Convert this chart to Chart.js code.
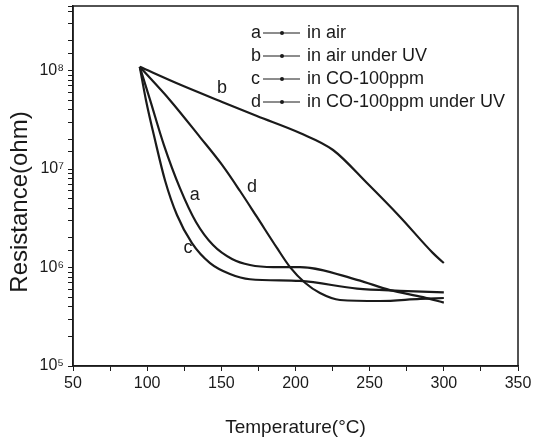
<!DOCTYPE html>
<html>
<head>
<meta charset="utf-8">
<script src="https://cdn.jsdelivr.net/npm/chart.js@4/dist/chart.umd.min.js"></script>
<style>
    body { margin:0; background:#fff; }
    #wrap { width:533px; height:448px; }
</style>
</head>
<body>
<div id="wrap"><canvas id="chart" width="533" height="448"></canvas></div>
<script>
// values (temperature in C, resistance in ohm)
const temp_a = [95, 102, 111.3, 122.1, 132.9, 144.4, 157.2, 169.3, 185, 203, 241.5, 263.7, 286, 300];
const res_a  = [1.09e8, 5.0e7, 1.75e7, 6.4e6, 2.9e6, 1.69e6, 1.22e6, 1.06e6, 1.01e6, 1.01e6, 7.5e5, 5.9e5, 5.0e5, 4.4e5];

const temp_b = [95, 122, 150.5, 174, 203, 225.3, 248.2, 270.5, 292.7, 300];
const res_b  = [1.09e8, 7.2e7, 4.8e7, 3.45e7, 2.32e7, 1.56e7, 7.2e6, 3.26e6, 1.4e6, 1.11e6];

const temp_c = [95, 99.2, 105.3, 112, 120.1, 130.2, 142.4, 155.8, 169.3, 203, 241.5, 270.5, 300];
const res_c  = [1.09e8, 5.0e7, 1.97e7, 7.7e6, 3.41e6, 1.77e6, 1.11e6, 8.6e5, 7.6e5, 7.3e5, 6.1e5, 5.8e5, 5.6e5];

const temp_d = [95, 115.4, 135.6, 150.5, 162.6, 174, 187.5, 196.3, 206.4, 216.5, 230, 257, 284, 300];
const res_d  = [1.09e8, 5.0e7, 2.11e7, 1.10e7, 5.98e6, 3.26e6, 1.58e6, 1.01e6, 7.0e5, 5.5e5, 4.68e5, 4.57e5, 4.8e5, 4.9e5];

const seriesNames = ['a', 'b', 'c', 'd'];
const legendText = ['in air', 'in air under UV', 'in CO-100ppm', 'in CO-100ppm under UV'];

// where the little letters sit next to each curve (data coords)
const labelTemp = [132, 150.5, 127.5, 170.7];
const labelRes  = [5.4e6, 6.6e7, 1.58e6, 6.6e6];

const xMin = 50, xMax = 350, xStep = 25;
const yMin = 1e5, yMax = 4.52e8;
const sup = {5:'\u2075', 6:'\u2076', 7:'\u2077', 8:'\u2078', 9:'\u2079'};

const FONT = "'Liberation Sans', Arial, sans-serif";
const INK = '#1a1a1a';

function toPoints(xs, ys){
    return xs.map((x, i)=>({x: x, y: ys[i]}));
}

const allTemps = [temp_a, temp_b, temp_c, temp_d];
const allRes = [res_a, res_b, res_c, res_d];

const datasets = seriesNames.map((name, i)=>({
    label: name,
    data: toPoints(allTemps[i], allRes[i]),
    borderColor: INK,
    borderWidth: 2.2,
    pointRadius: 0,
    fill: false,
    tension: 0.4,
    cubicInterpolationMode: 'monotone',
}));

// frame, axis titles, legend and curve letters
const decorPlugin = {
    id: 'decor',
    afterDraw(chart){
        const ctx = chart.ctx;
        const area = chart.chartArea;
        const xs = chart.scales.x, ys = chart.scales.y;

        ctx.save();
        ctx.strokeStyle = INK;
        ctx.lineWidth = 1.5;
        ctx.strokeRect(area.left, area.top, area.right - area.left, area.bottom - area.top);

        ctx.fillStyle = INK;

        // y title
        ctx.save();
        ctx.translate(20, 202);
        ctx.rotate(-Math.PI / 2);
        ctx.font = '24px ' + FONT;
        ctx.textAlign = 'center';
        ctx.textBaseline = 'middle';
        ctx.fillText('Resistance(ohm)', 0, 0);
        ctx.restore();

        // x title
        ctx.font = '19px ' + FONT;
        ctx.textAlign = 'center';
        ctx.textBaseline = 'middle';
        ctx.fillText('Temperature(\u00B0C)', (area.left + area.right) / 2, 428);

        // legend
        ctx.font = '18px ' + FONT;
        ctx.textBaseline = 'middle';
        for (let i = 0; i < seriesNames.length; i++){
            const y = area.top + 27 + i * 23;
            ctx.textAlign = 'left';
            ctx.fillText(seriesNames[i], 251, y);
            ctx.lineWidth = 1;
            ctx.beginPath();
            ctx.moveTo(263, y);
            ctx.lineTo(300, y);
            ctx.stroke();
            ctx.beginPath();
            ctx.arc(282, y, 2, 0, Math.PI * 2);
            ctx.fill();
            ctx.fillText(legendText[i], 307, y);
        }

        // letters on the curves
        ctx.textAlign = 'center';
        for (let i = 0; i < seriesNames.length; i++){
            ctx.fillText(seriesNames[i], xs.getPixelForValue(labelTemp[i]), ys.getPixelForValue(labelRes[i]));
        }
        ctx.restore();
    }
};

const config = {
    type: 'line',
    data: { datasets: datasets },
    options: {
        responsive: false,
        animation: false,
        layout: { padding: { top: 6, right: 15, left: 0, bottom: 0 } },
        plugins: {
            legend: { display: false },
            tooltip: { enabled: false },
        },
        scales: {
            x: {
                type: 'linear',
                min: xMin,
                max: xMax,
                afterFit: (scale)=>{
                    scale.height = 82;
                    scale.paddingLeft = 0;
                    scale.paddingRight = 0;
                },
                border: { color: INK, width: 1.5 },
                grid: { drawOnChartArea: false, color: INK, tickLength: 5 },
                ticks: {
                    stepSize: xStep,
                    autoSkip: false,
                    maxRotation: 0,
                    padding: 3,
                    color: INK,
                    font: { family: FONT, size: 16 },
                    callback: (v)=> (v % 50 === 0 ? String(v) : ''),
                },
            },
            y: {
                type: 'logarithmic',
                min: yMin,
                max: yMax,
                afterFit: (scale)=>{
                    scale.width = 73;
                    scale.paddingTop = 0;
                    scale.paddingBottom = 0;
                },
                border: { color: INK, width: 1.5 },
                grid: { drawOnChartArea: false, color: INK, tickLength: 5 },
                ticks: {
                    autoSkip: false,
                    padding: 4,
                    color: INK,
                    font: { family: FONT, size: 16 },
                    callback: (v)=>{
                        const e = Math.log10(v);
                        if (Math.abs(e - Math.round(e)) < 1e-6) return '10' + sup[Math.round(e)];
                        return '';
                    },
                },
            },
        },
    },
    plugins: [decorPlugin],
};

new Chart(document.querySelector('#chart'), config);
</script>
</body>
</html>
